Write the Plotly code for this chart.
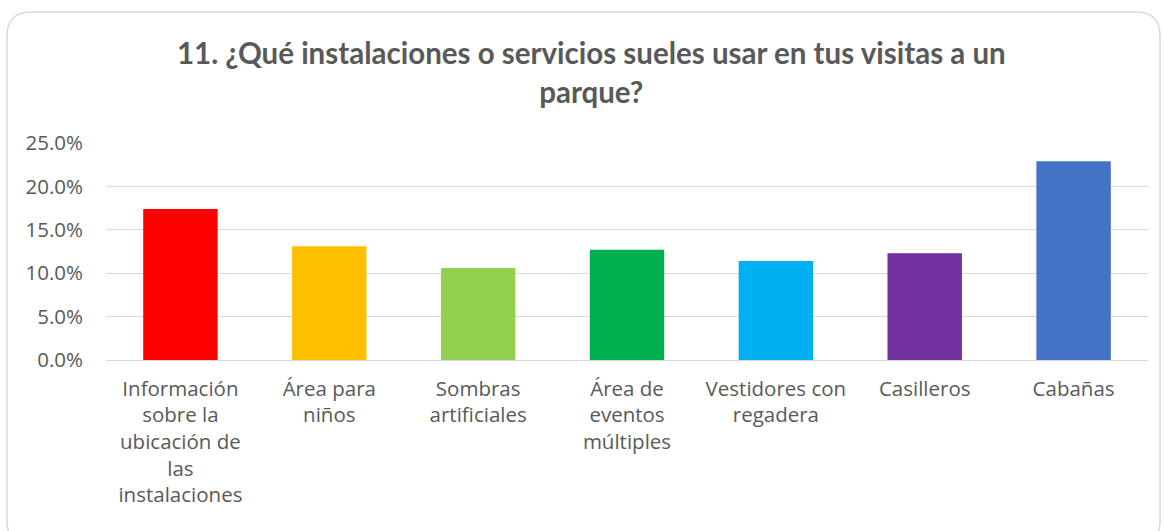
import plotly.graph_objects as go

# ---------- данные ----------
categories = [
    "Información<br>sobre la<br>ubicación de<br>las<br>instalaciones",
    "Área para<br>niños",
    "Sombras<br>artificiales",
    "Área de<br>eventos<br>múltiples",
    "Vestidores con<br>regadera",
    "Casilleros",
    "Cabañas",
]
values = [0.174, 0.131, 0.106, 0.127, 0.114, 0.123, 0.229]
colors = ["#FF0000", "#FFC000", "#92D050", "#00B050", "#00B0F0", "#7030A0", "#4472C4"]
y_ticks = [0, 0.05, 0.10, 0.15, 0.20, 0.25]

title = "11. ¿Qué instalaciones o servicios sueles usar en tus visitas a un<br>parque?"

# ---------- геометрия ----------
W, H = 1164, 531
ML, MR, MT, MB = 106, 16, 143, 171
PW, PH = W - ML - MR, H - MT - MB


def px(x):
    return (x - ML) / PW


def py(y):
    return (H - MB - y) / PH


def rounded_frame(x0, y0, x1, y1, r):
    return (
        f"M {px(x0 + r)} {py(y0)} L {px(x1 - r)} {py(y0)} "
        f"Q {px(x1)} {py(y0)} {px(x1)} {py(y0 + r)} "
        f"L {px(x1)} {py(y1 - r)} Q {px(x1)} {py(y1)} {px(x1 - r)} {py(y1)} "
        f"L {px(x0 + r)} {py(y1)} Q {px(x0)} {py(y1)} {px(x0)} {py(y1 - r)} "
        f"L {px(x0)} {py(y0 + r)} Q {px(x0)} {py(y0)} {px(x0 + r)} {py(y0)} Z"
    )


fig = go.Figure()
fig.add_trace(go.Bar(
    x=categories, y=values,
    marker=dict(color=colors, line=dict(width=0)),
    width=0.5, hoverinfo="skip",
))

fig.update_layout(
    width=W, height=H,
    margin=dict(l=ML, r=MR, t=MT, b=MB),
    paper_bgcolor="white", plot_bgcolor="white",
    font=dict(family="Open Sans, sans-serif", color="#595959"),
    showlegend=False,
    title=dict(
        text=f"<b>{title}</b>", x=0.508, xanchor="center",
        y=0.879, yanchor="middle",
        font=dict(family="Lato, sans-serif", size=29.5, color="#595959"),
    ),
    xaxis=dict(
        showgrid=False, showline=True, linecolor="#d9d9d9", linewidth=1,
        ticks="", tickfont=dict(size=20.5, color="#595959"),
        tickangle=0, ticklabelstandoff=10,
    ),
    yaxis=dict(
        range=[0, 0.25], tickvals=y_ticks, tickformat=".1%",
        showgrid=True, gridcolor="#d9d9d9", gridwidth=1,
        zeroline=False, showline=False, ticks="",
        tickfont=dict(size=20.5, color="#595959"),
        ticklabelstandoff=22,
    ),
    shapes=[dict(
        type="path", xref="paper", yref="paper",
        path=rounded_frame(7, 12, 1160, 545, 24),
        line=dict(color="#d9d9d9", width=1.5),
        layer="below",
    )],
)

fig.write_html("out.html", config={"displayModeBar": False},
               post_script="document.body.style.margin='0';")
